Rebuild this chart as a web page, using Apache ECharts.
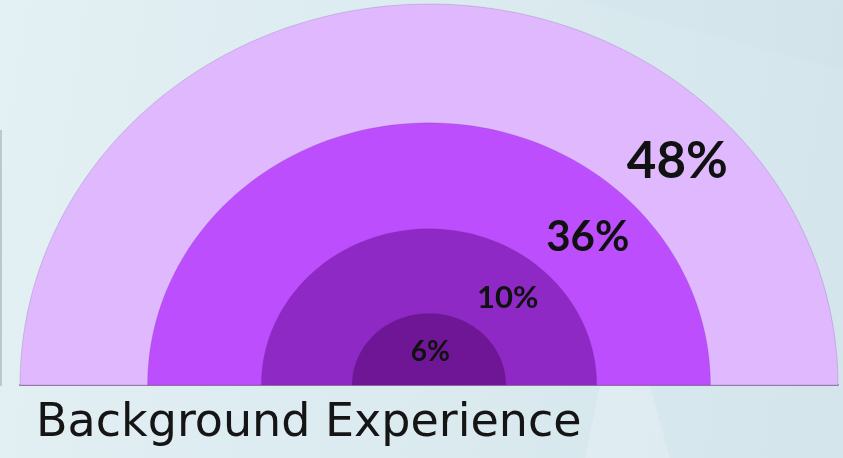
<!DOCTYPE html>
<html>
<head>
<meta charset="utf-8">
<script src="https://cdn.jsdelivr.net/npm/echarts@6/dist/echarts.min.js"></script>
<style>html,body{margin:0;padding:0;}#c{width:843px;height:458px;}</style>
</head>
<body>
<div id="c"></div>
<script>
// Data
const categories = ['Group A', 'Group B', 'Group C', 'Group D'];
const shareValues = [48, 36, 10, 6];            // percentage labels
const ringRadius = [1, 0.688, 0.41, 0.188];      // relative ring extent (outer → inner)
const titleText = 'Background Experience';

const ringColors = ['#DFB8FE', '#BC4EFE', '#8E29C6', '#6E1696'];
const labelSizes = [51, 42, 31, 28];
const labelAngles = [44, 45, 50, 88];

const seriesData = categories.map((c, i) => ({ name: c, value: [ringRadius[i], shareValues[i], i] }));

function renderItem(params, api) {
  const r = api.value(0);
  const v = api.value(1);
  const i = api.value(2);
  const inner = i + 1 < ringRadius.length ? ringRadius[i + 1] : 0;
  const pts = [];
  const N = 120;
  for (let k = 0; k <= N; k++) {
    const t = Math.PI * k / N;
    pts.push(api.coord([r * Math.cos(t), r * Math.sin(t)]));
  }
  const mid = i + 1 < ringRadius.length ? (r + inner) / 2 : r * 0.46;
  const a = labelAngles[i] * Math.PI / 180;
  const lp = api.coord([mid * Math.cos(a), mid * Math.sin(a)]);
  return {
    type: 'group',
    children: [
      {
        type: 'polygon',
        shape: { points: pts },
        style: { fill: ringColors[i], stroke: 'rgba(110,50,140,0.2)', lineWidth: 1 }
      },
      {
        type: 'text',
        x: lp[0], y: lp[1],
        z2: 10,
        style: {
          text: v + '%',
          fill: '#111',
          font: 'bold ' + labelSizes[i] + 'px Lato',
          align: 'center',
          verticalAlign: 'middle'
        }
      }
    ]
  };
}

const chart = echarts.init(document.getElementById('c'));
chart.setOption({
  animation: false,
  backgroundColor: {
    type: 'linear', x: 0, y: 0, x2: 1, y2: 0.3,
    colorStops: [
      { offset: 0, color: '#E3F0F4' },
      { offset: 1, color: '#D4E6EC' }
    ]
  },
  title: {
    text: titleText,
    left: 31,
    top: 396,
    textStyle: { fontFamily: 'DejaVu Sans', fontWeight: 'normal', fontSize: 46, color: '#151515' }
  },
  graphic: [
    { type: 'polygon', silent: true, z: -10, shape: { points: [[600, 386], [650, 386], [670, 458], [585, 458]] }, style: { fill: 'rgba(255,255,255,0.2)' } },
    { type: 'polygon', silent: true, z: -10, shape: { points: [[580, 0], [843, 0], [843, 70]] }, style: { fill: 'rgba(200,220,228,0.15)' } },
    { type: 'line', silent: true, shape: { x1: 1, y1: 130, x2: 1, y2: 386 }, style: { stroke: 'rgba(150,160,165,0.5)', lineWidth: 2 } }
  ],
  grid: { left: 20, right: 5, top: 4, bottom: 73 },
  xAxis: {
    type: 'value', min: -1, max: 1,
    axisLine: { show: true, lineStyle: { color: '#9A80A8', width: 2 } },
    axisTick: { show: false }, axisLabel: { show: false }, splitLine: { show: false }
  },
  yAxis: {
    type: 'value', min: 0, max: 1, show: false
  },
  series: [{
    type: 'custom',
    coordinateSystem: 'cartesian2d',
    renderItem: renderItem,
    data: seriesData,
    clip: false,
    z: 1
  }]
});
</script>
</body>
</html>
